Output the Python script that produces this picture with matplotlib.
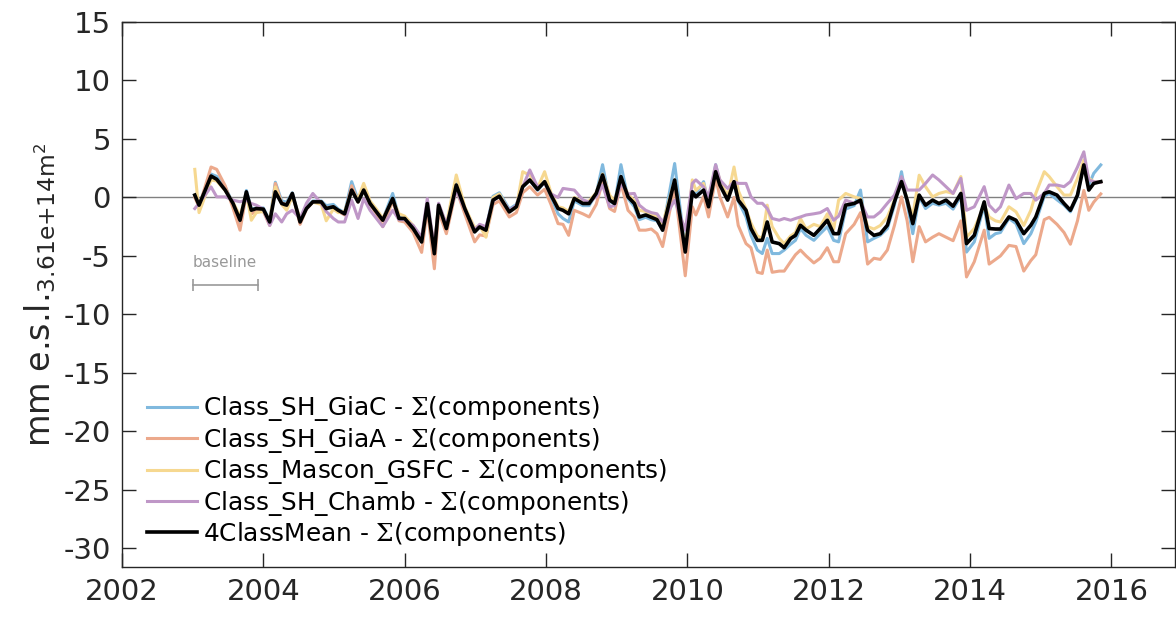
import matplotlib
matplotlib.use("Agg")
import matplotlib.pyplot as plt

plt.rcParams['font.family'] = ['DejaVu Sans']
plt.rcParams['mathtext.fontset'] = 'custom'
plt.rcParams['mathtext.rm'] = 'DejaVu Serif'
plt.rcParams['mathtext.sf'] = 'DejaVu Sans'
plt.rcParams['axes.unicode_minus'] = False

# monthly time stamps (decimal year)
t = [2003.03, 2003.09, 2003.26, 2003.34, 2003.46, 2003.57, 2003.67, 2003.76, 2003.83, 2003.90,
     2004.00, 2004.09, 2004.17, 2004.26, 2004.33, 2004.41, 2004.52, 2004.61, 2004.70, 2004.82,
     2004.89, 2004.99, 2005.06, 2005.15, 2005.25, 2005.34, 2005.42, 2005.51, 2005.60, 2005.69,
     2005.83, 2005.92, 2006.00, 2006.12, 2006.24, 2006.32, 2006.42, 2006.48, 2006.59, 2006.73,
     2006.85, 2006.99, 2007.06, 2007.15, 2007.25, 2007.34, 2007.48, 2007.58, 2007.67, 2007.77,
     2007.88, 2007.98, 2008.07, 2008.17, 2008.24, 2008.32, 2008.40, 2008.52, 2008.61, 2008.71,
     2008.80, 2008.90, 2008.97, 2009.06, 2009.16, 2009.25, 2009.32, 2009.41, 2009.49, 2009.57,
     2009.65, 2009.82, 2009.97, 2010.07, 2010.12, 2010.23, 2010.30, 2010.40, 2010.46, 2010.57,
     2010.66, 2010.72, 2010.83, 2010.90, 2010.99, 2011.06, 2011.13, 2011.20, 2011.30, 2011.37,
     2011.46, 2011.53, 2011.60, 2011.68, 2011.79, 2011.88, 2011.98, 2012.07, 2012.14, 2012.24,
     2012.36, 2012.45, 2012.55, 2012.64, 2012.73, 2012.83, 2012.93, 2013.03, 2013.11, 2013.19,
     2013.28, 2013.37, 2013.47, 2013.56, 2013.66, 2013.76, 2013.87, 2013.95, 2014.06, 2014.20,
     2014.27, 2014.36, 2014.43, 2014.55, 2014.65, 2014.76, 2014.86, 2014.93, 2015.05, 2015.12,
     2015.23, 2015.33, 2015.42, 2015.52, 2015.61, 2015.68, 2015.75, 2015.85]

mean4 = [0.2, -0.66, 1.83, 1.55, 0.63, -0.5, -1.95, 0.48, -1.09, -0.95,
         -1.0, -2.1, 0.48, -0.52, -0.66, 0.34, -2.1, -0.95, -0.38, -0.38,
         -0.95, -0.8, -1.1, -1.4, 0.63, -0.38, 0.63, -0.52, -1.24, -1.95,
         -0.09, -1.8, -1.8, -2.66, -3.81, -0.52, -4.81, -0.66, -2.66, 1.06,
         -0.95, -2.95, -2.52, -2.8, -0.23, 0.1, -1.24, -0.8, 0.92, 1.49,
         0.69, 1.35, 0.2, -0.95, -1.1, -1.4, -0.09, -0.52, -0.52, 0.34,
         1.92, -0.23, -0.52, 1.78, 0.05, -0.52, -1.67, -1.5, -1.7, -1.9,
         -2.8, 1.49, -4.67, 0.48, 0.05, 0.63, -0.8, 2.2, 1.06, -0.23,
         1.35, -0.23, -1.1, -2.66, -3.67, -3.67, -2.1, -3.81, -3.95, -4.3,
         -3.52, -3.24, -2.38, -2.8, -3.24, -2.66, -1.95, -3.1, -3.1, -0.66,
         -0.52, -0.23, -2.8, -3.24, -3.1, -2.38, -0.38, 1.35, -0.23, -2.24,
         0.2, -0.66, -0.23, -0.52, -0.23, -0.75, 0.34, -3.95, -3.24, -0.38,
         -2.66, -2.7, -2.7, -1.67, -1.95, -3.1, -2.38, -1.67, 0.34, 0.48,
         0.2, -0.52, -1.1, 0.2, 2.78, 0.63, 1.2, 1.35]

sh_giac = [0.2, -0.6, 2.0, 1.8, 0.9, -0.5, -2.2, 0.6, -1.0, -0.9,
           -0.9, -2.0, 1.3, -0.3, -0.4, 0.4, -2.1, -0.8, -0.3, -0.3,
           -0.7, -0.6, -1.0, -1.3, 1.35, -0.2, 0.8, -0.4, -1.1, -1.9,
           0.34, -1.7, -1.7, -2.6, -3.8, -0.5, -4.6, -0.7, -2.6, 1.2,
           -0.9, -2.8, -2.4, -2.7, 0.1, 0.4, -1.0, -0.6, 0.9, 1.5,
           0.6, 1.3, 0.0, -1.4, -1.8, -2.1, -0.3, -0.7, -0.7, 0.3,
           2.8, -0.3, -0.6, 2.8, -0.1, -0.8, -1.9, -1.7, -1.9, -2.0,
           -2.8, 2.9, -4.5, 0.48, 0.3, 1.35, -0.6, 2.8, 1.3, 0.0,
           1.2, -0.3, -1.67, -3.24, -4.5, -4.8, -3.5, -4.8, -4.8, -4.5,
           -4.0, -3.67, -2.66, -3.24, -3.67, -3.1, -2.5, -3.67, -3.8, -1.0,
           -0.7, 0.63, -3.8, -3.5, -3.24, -2.66, -0.66, 2.2, -0.5, -3.1,
           0.05, -0.95, -0.5, -0.66, -0.5, -1.0, 0.1, -4.67, -3.8, -0.66,
           -3.5, -3.1, -3.0, -1.8, -2.24, -3.95, -3.1, -2.1, 0.1, 0.34,
           -0.2, -0.66, -1.23, 0.1, 3.0, 1.06, 2.06, 2.78]

sh_giaa = [0.0, -0.8, 2.6, 2.4, 1.0, -0.9, -2.8, 0.3, -1.4, -1.2,
           -1.2, -2.4, 1.2, -0.5, -0.6, 0.3, -2.3, -1.0, -0.4, -0.4,
           -0.9, -0.8, -1.2, -1.5, 1.0, -0.4, 0.7, -0.6, -1.4, -2.5,
           -0.3, -2.0, -2.1, -3.0, -4.7, -1.0, -6.1, -1.2, -3.1, 0.7,
           -1.4, -3.8, -3.2, -3.3, -0.6, -0.3, -1.67, -1.3, 0.4, 0.92,
           0.2, 0.7, -0.6, -2.24, -2.3, -3.24, -1.1, -1.4, -1.67, -0.6,
           1.35, -0.95, -1.2, 1.2, -1.1, -1.67, -2.8, -2.8, -2.7, -3.1,
           -4.2, 0.9, -6.7, -0.8, -1.5, 0.1, -1.67, 1.7, 0.05, -1.67,
           0.0, -2.4, -3.95, -4.3, -6.4, -6.5, -4.5, -6.4, -6.3, -6.3,
           -5.5, -4.9, -4.5, -5.0, -5.6, -5.2, -4.3, -5.5, -5.5, -3.1,
           -2.3, -1.3, -5.7, -5.2, -5.3, -4.5, -2.4, 0.05, -2.0, -5.5,
           -2.5, -3.8, -3.4, -3.1, -3.4, -3.7, -2.0, -6.8, -5.5, -2.8,
           -5.7, -5.3, -5.0, -4.1, -4.2, -6.3, -5.4, -4.9, -1.9, -1.7,
           -2.3, -3.0, -4.0, -2.0, 0.6, -1.1, -0.4, 0.3]

mascon_gsfc = [2.4, -1.3, 1.5, 1.4, 0.6, -0.4, -1.6, 0.4, -1.95, -1.3,
               -1.2, -1.9, 0.9, -0.6, -1.1, 0.1, -1.8, -0.9, -0.4, -0.6,
               -2.0, -1.0, -1.3, -1.2, 0.5, -0.1, 1.2, -0.3, -1.0, -1.8,
               -0.2, -1.4, -1.6, -2.4, -3.6, -0.6, -4.3, -0.6, -2.3, 1.92,
               -0.8, -2.6, -2.4, -3.4, 0.0, 0.3, -1.2, -0.9, 2.2, 1.9,
               0.8, 2.2, 0.4, -0.8, -0.9, -1.2, 0.0, -0.4, -0.3, 0.4,
               2.0, 0.2, -0.3, 1.5, 0.3, -0.3, -1.1, -1.2, -1.5, -1.6,
               -2.3, 1.5, -4.5, 1.5, 0.6, 1.2, -0.4, 2.6, 1.5, 0.05,
               2.6, 0.6, -1.0, -2.2, -3.3, -3.5, -0.66, -2.5, -3.5, -3.95,
               -3.3, -3.0, -1.8, -2.7, -2.3, -2.5, -1.4, -2.7, -0.23, 0.34,
               0.05, -0.1, -2.5, -2.7, -2.4, -1.67, -0.23, 1.6, -0.23, -1.6,
               1.9, 0.92, 0.05, 0.34, 0.5, 0.34, 1.78, -3.4, -2.66, -0.66,
               -1.67, -2.0, -2.1, -0.8, -1.23, -2.4, -1.1, 0.34, 2.2, 1.78,
               0.92, 0.2, 0.2, 1.63, 3.2, 1.63, 1.35, 1.3]

sh_chamb = [-0.95, -0.5, 0.9, 0.05, 0.05, -0.23, -0.37, -0.23, -0.52, -0.66,
            -1.0, -2.4, -1.4, -2.1, -1.4, -1.1, -1.8, -0.5, 0.34, -0.5,
            -1.2, -1.8, -2.1, -2.1, -0.23, -1.8, -0.1, -1.1, -1.8, -2.5,
            -1.1, -1.9, -1.9, -2.4, -3.4, -0.1, -4.4, -0.5, -2.3, 0.6,
            -1.0, -2.8, -2.3, -2.5, -0.3, 0.1, -1.1, -0.7, 0.9, 2.35,
            0.9, 1.2, 0.3, 0.0, 0.77, 0.7, 0.63, -0.2, -0.4, 0.05,
            1.06, -0.8, -0.7, 1.2, 0.3, 0.34, -0.66, -1.1, -1.3, -1.4,
            -2.1, -0.23, -2.8, 1.2, 1.5, 0.9, 0.05, 2.8, 1.5, 0.77,
            1.35, 1.2, 1.2, 0.05, -0.5, -0.5, -0.95, -1.8, -1.95, -1.8,
            -1.95, -1.8, -1.67, -1.5, -1.4, -1.3, -0.95, -1.95, -1.6, -0.23,
            -0.5, -0.4, -1.67, -1.67, -1.24, -0.5, 0.2, 1.78, 0.63, 0.63,
            0.63, 1.2, 1.92, 1.49, 0.92, 0.34, 1.63, -1.1, -0.8, 0.92,
            -0.66, -1.23, -0.8, 1.06, -0.1, 0.34, 0.34, -0.23, 0.34, 1.06,
            1.06, 0.92, 1.35, 2.6, 3.9, 1.5, 1.35, 1.3]

labels = ['Class_SH_GiaC', 'Class_SH_GiaA', 'Class_Mascon_GSFC', 'Class_SH_Chamb', '4ClassMean']
series = [sh_giac, sh_giaa, mascon_gsfc, sh_chamb, mean4]
colors = ['#80b9de', '#eca98c', '#f6d890', '#bf97c7', 'black']
widths = [2.2, 2.2, 2.2, 2.2, 2.6]

baseline_span = [2003.0, 2003.92]

fig = plt.figure(figsize=(11.76, 6.18), dpi=100)
ax = fig.add_axes([122/1176, 51/618, 1053/1176, 545/618])

ax.axhline(0, color='#808080', linewidth=1.0, zorder=1)

for y, lab, c, w in zip(series, labels, colors, widths):
    ax.plot(t, y, color=c, linewidth=w, label=lab + r' - $\Sigma$(components)', zorder=2)

# baseline marker
ax.plot(baseline_span, [-7.5, -7.5], color='#999999', linewidth=1.2,
        marker='|', markersize=9, markeredgewidth=1.2, zorder=2)
ax.text(sum(baseline_span) / 2, -5.6, 'baseline', color='#999999', fontsize=11,
        ha='center', va='center')

ax.set_xlim(2002, 2016.9)
ax.set_ylim(-31.6, 15)
ax.set_xticks(range(2002, 2017, 2))
ax.set_yticks(range(-30, 16, 5))
ax.tick_params(direction='in', length=10, width=1, labelsize=21, colors='#262626',
               top=True, right=True, pad=8)
for sp in ax.spines.values():
    sp.set_color('#262626')
    sp.set_linewidth(1)

ax.set_ylabel(r'mm e.s.l.$_{\mathsf{3.61e{+}14m}^{\mathsf{2}}}$', fontsize=24, color='#262626', labelpad=4)

ax.legend(loc='upper left', bbox_to_anchor=(0.024, 0.317), frameon=False, fontsize=17.8,
          handlelength=2.0, handletextpad=0.25, labelspacing=0.1, borderaxespad=0, borderpad=0)

fig.savefig('out.png', dpi=100)
